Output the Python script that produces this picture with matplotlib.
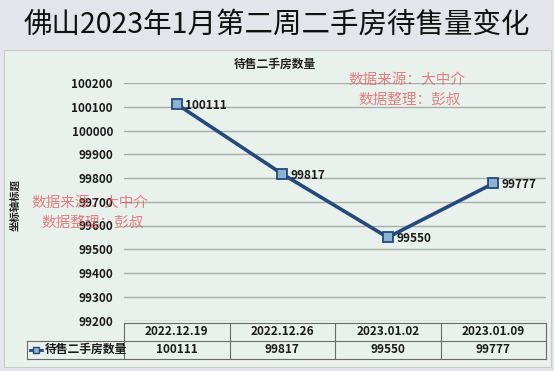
import matplotlib

matplotlib.use("Agg")

import matplotlib.pyplot as plt
from matplotlib.patches import Rectangle

plt.rcParams["font.family"] = ["Noto Sans CJK SC", "DejaVu Sans"]

# data
dates = ["2022.12.19", "2022.12.26", "2023.01.02", "2023.01.09"]
counts = [100111, 99817, 99550, 99777]
series_name = "待售二手房数量"
y_ticks = [99200, 99300, 99400, 99500, 99600, 99700, 99800, 99900, 100000, 100100, 100200]

W, H = 554, 371
LINE = "#24497a"
FILL = "#8cb4d2"
GRID = "#a9aeab"
TXT = "#1a1a1a"

fig = plt.figure(figsize=(W / 100, H / 100), dpi=100)
fig.patch.set_facecolor("#e4e5ea")

# chart area panel
fig.patches.append(Rectangle((4 / W, 4 / H), 547 / W, (H - 50 - 4) / H,
                             transform=fig.transFigure, facecolor="#e8f1ec",
                             edgecolor="#c8ccc9", lw=0.8, zorder=-5))

fig.text(0.5, 1 - 25 / H, "佛山2023年1月第二周二手房待售量变化",
         ha="center", va="center", fontsize=20.5, color="#111111")
fig.text(275 / W, 1 - 64 / H, "待售二手房数量", ha="center", va="center",
         fontsize=8.5, fontweight="bold", color="#222222")
fig.text(15 / W, 1 - 205 / H, "坐标轴标题", ha="center", va="center",
         rotation=90, fontsize=7.5, fontweight="bold", color="#222222")

left, right = 124 / W, 546 / W
bottom, top = 1 - 320.5 / H, 1 - 83 / H
ax = fig.add_axes([left, bottom, right - left, top - bottom])
ax.set_facecolor("none")

x = list(range(len(dates)))
ax.plot(x, counts, color=LINE, lw=2.6, marker="s", ms=6.5,
        mfc=FILL, mec=LINE, mew=1.3, zorder=3, clip_on=False)
for xi, v in zip(x, counts):
    ax.annotate(str(v), (xi, v), xytext=(6, -1), textcoords="offset points",
                ha="left", va="center", fontsize=8.5, fontweight="bold",
                color=TXT)

ax.set_xlim(-0.5, len(dates) - 0.5)
ax.set_ylim(y_ticks[0], y_ticks[-1])
ax.set_yticks(y_ticks)
ax.set_yticklabels([str(t) for t in y_ticks], fontsize=8.5, fontweight="bold",
                   color=TXT)
ax.set_xticks([])
ax.tick_params(axis="y", length=0, pad=8)
ax.grid(axis="y", color=GRID, lw=1)
for s in ax.spines.values():
    s.set_visible(False)

# data table under the axes (pixel rows -> axes coords)
ax_h = (top - bottom) * H
ax_w = (right - left) * W


def py(p):
    return (320.5 - p) / ax_h


def px(p):
    return (p - 124) / ax_w


t0, t1, t2 = py(322.5), py(340.5), py(358.5)
tl = px(27)
lk = dict(transform=ax.transAxes, color="#6a6a6a", lw=0.8, clip_on=False)
ax.plot([0, 1], [t0, t0], **lk)
ax.plot([tl, 1], [t1, t1], **lk)
ax.plot([tl, 1], [t2, t2], **lk)
ax.plot([tl, tl], [t1, t2], **lk)
for i in range(len(dates) + 1):
    xv = i / len(dates)
    ax.plot([xv, xv], [t0, t2], **lk)

xt = ax.get_xaxis_transform()
for xi, d, v in zip(x, dates, counts):
    ax.text(xi, (t0 + t1) / 2, d, transform=xt, ha="center", va="center",
            fontsize=8.5, fontweight="bold", color=TXT, clip_on=False)
    ax.text(xi, (t1 + t2) / 2, str(v), transform=xt, ha="center", va="center",
            fontsize=8.5, fontweight="bold", color=TXT, clip_on=False)

# legend key + row label
ky = (t1 + t2) / 2
ax.plot([px(30), px(42)], [ky, ky], transform=ax.transAxes, color=LINE, lw=2,
        clip_on=False)
ax.plot([px(36)], [ky], transform=ax.transAxes, marker="s", ms=5,
        mfc=FILL, mec=LINE, mew=1, clip_on=False)
ax.text(px(45), ky, series_name, transform=ax.transAxes, ha="left",
        va="center", fontsize=8.5, fontweight="bold", color=TXT)

# watermarks
wm = dict(color="#e0595c", alpha=0.75, fontsize=10.5, family=["Noto Sans CJK SC"],
          ha="left", va="center", zorder=10)
fig.text(348 / W, 1 - 80 / H, "数据来源：大中介", **wm)
fig.text(358 / W, 1 - 100 / H, "数据整理：彭叔", **wm)
fig.text(31 / W, 1 - 203 / H, "数据来源：大中介", **wm)
fig.text(41 / W, 1 - 223 / H, "数据整理：彭叔", **wm)

fig.savefig("out.png", dpi=100)
